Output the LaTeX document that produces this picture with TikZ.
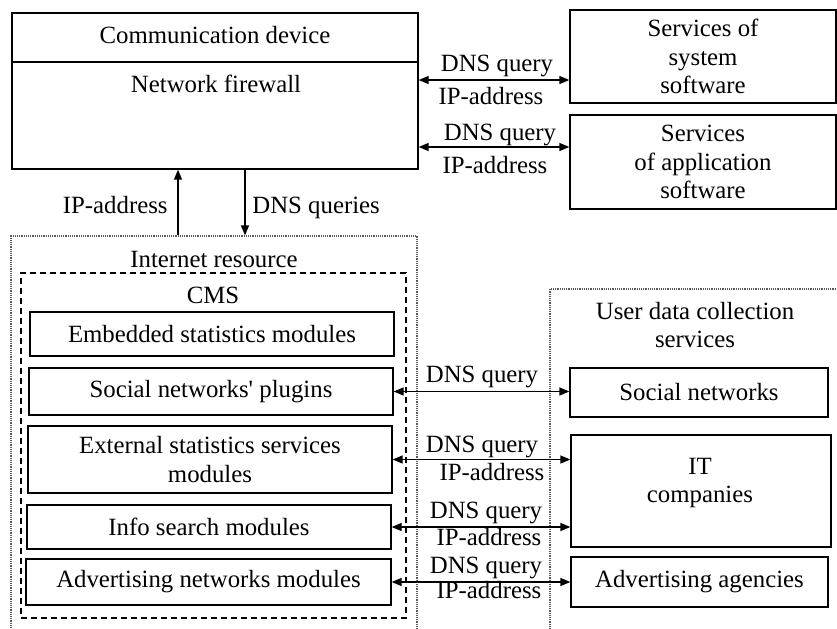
\documentclass[tikz,border=0pt]{standalone}
\usepackage{fontspec}
\setmainfont{Liberation Serif}
\usepackage{tikz}
\usetikzlibrary{ fit,         % For boxes drawn round two given corners
                 arrows.meta,
               }
\tikzstyle{block} = [rectangle, draw=black, line width=0.65pt, inner sep=0pt, align=center]
\tikzstyle{area} = [rectangle, draw=black!65, line width=0.65pt, dash pattern=on 0.6pt off 0.5pt, inner sep=0pt]
\tikzstyle{group} = [rectangle, draw=black, line width=0.65pt, dash pattern=on 3pt off 2pt, inner sep=0pt]
\tikzstyle{link} = [<->, line width=0.65pt]
\tikzstyle{flow} = [->, line width=0.65pt]
\tikzstyle{caption} = [inner sep=0pt, anchor=base, align=center]

\begin{document}
\begin{tikzpicture}[x=0.5pt, y=-0.5pt, >={Triangle[length=5pt, width=4pt]},
                    every node/.style={font=\fontsize{12.4}{14.25}\selectfont}]
  \useasboundingbox (0,0) rectangle (837,628);
  \clip (0,0) rectangle (837,628);

  % communication device and the services
  \node (comdev) [block, fit={(12,13) (418,169)}] {};
  \coordinate (divy) at (0,62);
  \draw [line width=0.65pt] (comdev.west |- divy) -- (comdev.east |- divy);
  \node (comtitle) [caption] at (215,43) {Communication device};
  \node (firewall) [caption] at (216,92) {Network firewall};
  \node (syssw) [block, minimum width=133pt, minimum height=46.5pt] at (703,56.5) {Services of\\system\\software};
  \node (appsw) [block, minimum width=133pt, minimum height=47pt] at (703,162) {Services\\of application\\software};
  \coordinate (sysq) at (0,80);
  \coordinate (appq) at (0,147);
  \draw [link] (comdev.east |- sysq) -- (syssw.west |- sysq);
  \draw [link] (comdev.east |- appq) -- (appsw.west |- appq);
  \node (dq1) [caption] at (497,71) {DNS query};
  \node (ip1) [caption] at (491,104) {IP-address};
  \node (dq2) [caption] at (500,140) {DNS query};
  \node (ip2) [caption] at (495,173) {IP-address};

  % internet resource with the CMS modules
  \node (inet) [area, fit={(11,236) (417,650)}] {};
  \node (inettitle) [caption] at (214,267) {Internet resource};
  \node (cms) [group, fit={(21,273) (406,618)}] {};
  \node (cmstitle) [caption] at (213,303) {CMS};
  \node (embed) [block, minimum width=182pt, minimum height=22pt] at (212,334) {Embedded statistics modules};
  \node (plugins) [block, minimum width=182pt, minimum height=23.5pt] at (211,391.5) {Social networks\textquotesingle{} plugins};
  \node (extstat) [block, minimum width=182pt, minimum height=33.5pt] at (210,459.5) {External statistics services\\modules};
  \node (infosearch) [block, minimum width=182pt, minimum height=22pt] at (209,527) {Info search modules};
  \node (advnet) [block, minimum width=182.5pt, minimum height=23pt] at (208.5,582) {Advertising networks modules};

  \coordinate (upx) at (178,0);
  \coordinate (downx) at (245,0);
  \draw [flow] (upx |- inet.north) -- (upx |- comdev.south);
  \draw [flow] (downx |- comdev.south) -- (downx |- inet.north);
  \node (ipup) [caption, anchor=base east] at (168,213) {IP-address};
  \node (dnsdown) [caption, anchor=base west] at (252,213) {DNS queries};

  % user data collection services
  \node (udc) [area, fit={(550,289) (860,650)}] {};
  \node (udctitle) [align=center, inner sep=0pt] at (695,325) {User data collection\\services};
  \node (socnet) [block, minimum width=129pt, minimum height=24.5pt] at (699,392.5) {Social networks};
  \node (itcomp) [block, fit={(571,435) (831,547)}] {};
  \node (ittext) [align=center, inner sep=0pt] at (700,483) {IT\\companies};
  \node (advag) [block, minimum width=128.5pt, minimum height=25pt] at (699.5,582) {Advertising agencies};

  \draw [link] (plugins.east) -- (plugins.east -| socnet.west);
  \draw [link] (extstat.east) -- (extstat.east -| itcomp.west);
  \draw [link] (infosearch.east) -- (infosearch.east -| itcomp.west);
  \draw [link] (advnet.east) -- (advnet.east -| advag.west);
  \node (dq3) [caption] at (482,382) {DNS query};
  \node (dq4) [caption] at (482,452) {DNS query};
  \node (ip4) [caption] at (492,480) {IP-address};
  \node (dq5) [caption] at (486,518) {DNS query};
  \node (ip5) [caption] at (489,545) {IP-address};
  \node (dq6) [caption] at (486,573) {DNS query};
  \node (ip6) [caption] at (489,598) {IP-address};
\end{tikzpicture}
\end{document}
